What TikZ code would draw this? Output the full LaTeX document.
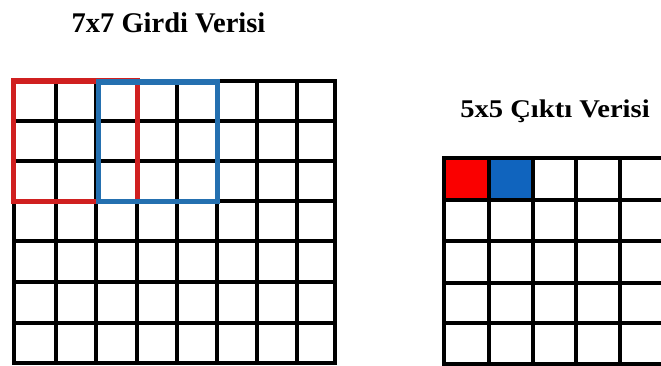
\documentclass[tikz,border=0pt]{standalone}
\usepackage{fontspec}
\setmainfont{Liberation Serif}
\definecolor{boxred}{RGB}{208,32,32}
\definecolor{boxblue}{RGB}{36,112,176}
\definecolor{cellred}{RGB}{250,0,0}
\definecolor{cellblue}{RGB}{16,100,190}
\begin{document}
\begin{tikzpicture}[x=1pt,y=-1pt,
  gridline/.style={line width=3.3pt,black,line cap=rect},
  redbox/.style={line width=5.6pt,boxred,line cap=rect},
  bluebox/.style={line width=5.6pt,boxblue,line cap=rect},
  titletext/.style={font=\fontsize{28.5}{30}\selectfont\bfseries,inner sep=0pt,anchor=base}]
\useasboundingbox[fill=white] (0,0) rectangle (661,365);
% output cells
\fill[cellred] (444,158) rectangle (489,200);
\fill[cellblue] (489,158) rectangle (533,200);
% left grid
\foreach \x in {14,56,96,137,177,217,257,297,335}
  \draw[gridline] (\x,81) -- (\x,363);
\foreach \y in {81,121,161,201,241,282,323,363}
  \draw[gridline] (14,\y) -- (335,\y);
% right grid
\foreach \x in {444,489,533,576,620,664}
  \draw[gridline] (\x,158) -- (\x,364);
\foreach \y in {158,200,241,283,323,364}
  \draw[gridline] (444,\y) -- (664,\y);
% filters
\draw[redbox] (13.5,81) rectangle (137.5,201.5);
\draw[bluebox] (98.5,82) rectangle (217.5,201.5);
% titles
\node[titletext] (t1) at (168.5,32) {7x7 Girdi Verisi};
\node[titletext,font=\fontsize{25.5}{27}\selectfont\bfseries,xscale=1.12] (t2) at (555,117) {5x5 Çıktı Verisi};
\end{tikzpicture}
\end{document}
